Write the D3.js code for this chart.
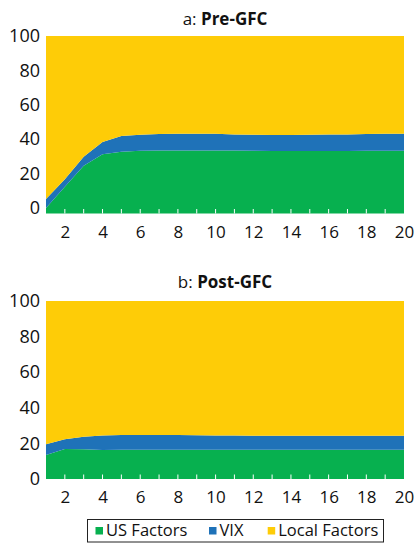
<!DOCTYPE html>
<html><head><meta charset="utf-8">
<script src="https://cdn.jsdelivr.net/npm/d3@7"></script>
<style>body{margin:0;background:#fff}svg{display:block}text{font-family:"Open Sans","Noto Sans",sans-serif;fill:#111}</style>
</head><body>
<script>
const horizons = d3.range(1, 21);
const xTickLabels = [2,4,6,8,10,12,14,16,18,20];
const yTickLabels = [0,20,40,60,80,100];
const seriesNames = ["US Factors","VIX","Local Factors"];
const seriesColors = ["#07b04f","#1f72b8","#fecc07"];
// Panel a: Pre-GFC
const preUS  = [0,12.4,24.6,31.2,32.7,33.3,33.5,33.5,33.5,33.5,33.4,33.3,33.2,33.2,33.2,33.2,33.2,33.3,33.3,33.3];
const preVIX = [5.2,4.3,5.2,7.2,9.2,9.3,9.5,9.7,9.7,9.6,9.4,9.3,9.3,9.3,9.4,9.5,9.6,9.7,9.8,9.9];
// Panel b: Post-GFC
const postUS  = [13.5,16.9,16.7,16.3,16.5,16.5,16.5,16.5,16.5,16.5,16.5,16.5,16.5,16.5,16.5,16.5,16.5,16.5,16.5,16.5];
const postVIX = [6.0,5.4,7.1,8.2,8.2,8.2,8.2,8.2,8.1,8.0,7.9,7.8,7.8,7.8,7.8,7.8,7.8,7.8,7.8,7.8];

const W = 419, H = 543;
const svg = d3.select("body").append("svg").attr("width", W).attr("height", H);

function panel(top, zeroY, plotBottom, titleY, titlePrefix, titleBold, us, vix) {
  const rows = horizons.map((h, i) => ({h, us: us[i], vix: vix[i], local: 100 - us[i] - vix[i]}));
  const stack = d3.stack().keys(["us","vix","local"])(rows);
  const x = d3.scaleLinear().domain([1, 20]).range([46, 404]);
  const y = d3.scaleLinear().domain([0, 100]).range([zeroY, top]);
  const g = svg.append("g");
  // band below zero line
  g.append("rect").attr("x", x(1)).attr("y", zeroY).attr("width", x(20) - x(1))
    .attr("height", plotBottom - zeroY).attr("fill", seriesColors[0]);
  const area = d3.area().x(d => x(d.data.h)).y0(d => y(d[0])).y1(d => y(d[1]));
  g.selectAll("path.a").data(stack).join("path").attr("class","a")
    .attr("d", area).attr("fill", (d, i) => seriesColors[i]);
  // white ticks
  g.selectAll("line.t").data(horizons.slice(1, 19)).join("line").attr("class","t")
    .attr("x1", d => x(d)).attr("x2", d => x(d)).attr("y1", plotBottom).attr("y2", plotBottom - 4.5)
    .attr("stroke", "#fff").attr("stroke-width", 1);
  const yAxis = d3.axisLeft(y).tickValues(yTickLabels).tickSize(0).tickPadding(6);
  const ya = g.append("g").attr("transform", "translate(46,0)").call(yAxis);
  ya.select(".domain").remove();
  ya.selectAll("text").style("font-size", "18px").attr("fill", "#111");
  const xAxis = d3.axisBottom(x).tickValues(xTickLabels).tickSize(0).tickPadding(12);
  const xa = g.append("g").attr("transform", `translate(0,${plotBottom})`).call(xAxis);
  xa.select(".domain").remove();
  xa.selectAll("text").style("font-size", "17px").attr("fill", "#111");
  const t = svg.append("text").attr("x", 225).attr("y", titleY).attr("text-anchor", "middle").style("font-size", "17px");
  t.append("tspan").text(titlePrefix);
  t.append("tspan").attr("font-weight", "bold").text(titleBold);
}
panel(36, 208, 213.5, 25, "a: ", "Pre-GFC", preUS, preVIX);
panel(301, 479, 479, 288, "b: ", "Post-GFC", postUS, postVIX);

// legend
const lg = svg.append("g");
lg.append("rect").attr("x", 87.5).attr("y", 519.5).attr("width", 296).attr("height", 22.5)
  .attr("fill", "#fff").attr("stroke", "#222").attr("stroke-width", 1);
const legX = [95.5, 209, 267.7];
seriesNames.forEach((n, i) => {
  lg.append("rect").attr("x", legX[i]).attr("y", 527).attr("width", 7.5).attr("height", 7.5).attr("fill", seriesColors[i]);
  lg.append("text").attr("x", legX[i] + 10.5).attr("y", 536).style("font-size", "16.5px").text(n);
});
</script>
</body></html>
